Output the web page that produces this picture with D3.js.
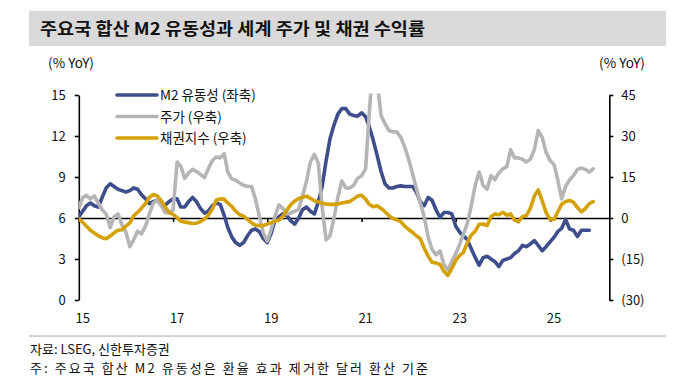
<!DOCTYPE html>
<html>
<head>
<meta charset="utf-8">
<script src="https://cdn.jsdelivr.net/npm/d3@7"></script>
<style>
  body { margin: 0; background: #fff; }
  svg text { font-family: "Noto Sans CJK KR", "Noto Sans", sans-serif; fill: #111; }
</style>
</head>
<body>
<div id="chart"></div>
<script>
// monthly observations starting Jan 2015
const startMonth = new Date(2015, 0, 1);

// M2 liquidity (left axis, % YoY)
const m2Values = [
  6.1, 6.5, 6.9, 7.1, 6.9, 6.8, 7.5, 8.2, 8.5, 8.3, 8.1, 8.0,
  7.9, 8.0, 8.2, 8.1, 7.7, 7.4, 7.05, 7.2, 7.3, 7.0, 6.95, 7.2,
  7.4, 7.4, 6.8, 6.8, 7.2, 7.5, 7.2, 6.7, 6.35, 6.5, 6.9, 7.1,
  7.0, 6.2, 5.3, 4.6, 4.2, 4.0, 4.2, 4.7, 5.1, 5.2, 5.0, 4.5,
  4.2, 4.9, 5.8, 6.1, 6.3, 6.2, 5.8, 5.55, 6.0, 6.6, 6.8, 6.5,
  6.3, 7.2, 8.3, 10.2, 11.8, 12.8, 13.6, 14.0, 14.0, 13.6, 13.5, 13.45,
  13.7, 13.4, 12.7, 11.7, 10.6, 9.4, 8.5, 8.2, 8.2, 8.3, 8.35, 8.3,
  8.3, 8.3, 7.9, 7.2, 6.9, 7.5, 7.3, 6.6, 6.05, 6.4, 6.4, 6.3,
  5.4, 4.95, 4.7, 4.4, 3.75, 3.1, 2.55, 3.1, 3.2, 3.0, 2.8, 2.45,
  2.9, 3.0, 3.1, 3.4, 3.6, 4.0, 3.9, 4.1, 4.35, 4.0, 3.6, 3.9,
  4.25, 4.6, 5.0, 5.25, 5.9, 5.2, 5.1, 4.65, 5.1, 5.1, 5.1
];

// global equities (right axis, % YoY)
const stockValues = [
  3.8, 7.5, 8.3, 7.0, 8.1, 5.5, 3.0, 1.5, -3.5, 0.5, 1.5, -2.5,
  -5.2, -10.5, -8.0, -4.8, -5.8, -3.0, 1.5, 5.5, 6.5, 4.5, 2.0, 1.8,
  3.0, 20.5, 19.0, 14.5, 16.5, 17.8, 17.0, 16.0, 14.8, 18.0, 21.0, 22.3,
  22.0, 23.5, 16.8, 14.3, 13.8, 12.8, 12.0, 11.5, 11.5, 7.0, 0.5, -5.5,
  -8.5, -4.0, 0.5, 4.8, 3.5, 1.5, 1.8, 2.5, 3.2, 8.0, 13.5, 20.5,
  23.3, 20.0, 4.0, -8.0, -6.5, 0.0, 7.5, 13.5, 11.0, 11.0, 12.0, 14.5,
  15.5, 18.0, 38.0, 58.0, 50.0, 37.5, 34.5, 32.0, 31.5, 31.5, 29.5, 26.0,
  21.5, 16.0, 11.0, 5.5, 0.5, -7.0, -11.5, -13.5, -12.0, -17.0, -19.0, -16.0,
  -13.0, -9.5, -6.0, -2.0, 4.5, 12.0, 16.8, 12.0, 10.5, 15.5, 14.0, 16.5,
  18.0, 18.8, 25.0, 22.0, 22.0, 21.5, 20.5, 21.5, 25.0, 32.0, 29.5, 24.0,
  21.0, 19.5, 14.0, 7.0, 11.5, 14.0, 15.5, 17.8, 18.3, 17.8, 16.8, 18.0
];

// bond index (right axis, % YoY)
const bondValues = [
  -0.3, -1.6, -3.0, -4.5, -5.5, -6.5, -7.2, -7.6, -6.6, -5.4, -4.5, -4.3,
  -3.0, -1.8, 0.8, 2.1, 3.6, 5.3, 7.6, 8.6, 8.1, 6.3, 4.0, 2.0,
  1.3, 0.1, -1.2, -1.5, -1.7, -2.0, -1.9, -1.3, -0.4, 1.0, 3.3, 6.5,
  7.0, 6.9, 5.5, 4.2, 2.5, 1.2, 0.7, -0.5, -1.8, -2.6, -2.8, -2.8,
  -2.2, -1.7, -1.2, -0.8, 0.5, 2.8, 4.8, 6.2, 7.1, 7.6, 8.0, 7.2,
  6.3, 5.9, 5.4, 5.1, 5.0, 5.0, 5.1, 5.5, 5.8, 6.0, 7.0, 8.0,
  8.3, 6.9, 5.0, 4.1, 4.5, 3.5, 2.3, 0.8, -0.2, -0.7, -1.3, -3.0,
  -4.2, -5.3, -6.5, -7.6, -11.0, -14.0, -16.2, -16.5, -17.0, -19.5, -21.0, -18.5,
  -15.5, -13.7, -12.6, -9.0, -6.2, -4.8, -2.3, -2.2, -2.8, 0.5, 1.5, 1.2,
  2.1, 1.0, 1.5, -0.8, -1.4, 0.5, 0.9, 3.5, 8.0, 10.3, 6.3, 2.0,
  -0.5, -0.5, 2.2, 5.0, 6.0, 6.4, 5.8, 3.8, 2.3, 3.4, 5.3, 6.0
];

const leftTicks = [0, 3, 6, 9, 12, 15];
const rightTicks = [-30, -15, 0, 15, 30, 45];
const yearTicks = [2015, 2017, 2019, 2021, 2023, 2025];

const seriesNames = ["M2 유동성 (좌축)", "주가 (우축)", "채권지수 (우축)"];
const seriesColors = ["#3e4d8c", "#b5b5b5", "#d4a106"];

const titleText = "주요국 합산 M2 유동성과 세계 주가 및 채권 수익률";
const sourceText = "자료: LSEG, 신한투자증권";
const noteText = "주: 주요국 합산 M2 유동성은 환율 효과 제거한 달러 환산 기준";

const W = 680, H = 377;
const plot = {left: 78.8, right: 609.3, top: 95, bottom: 300};

const svg = d3.select("#chart").append("svg")
    .attr("width", W)
    .attr("height", H);

// title bar
svg.append("rect")
    .attr("x", 29).attr("y", 11)
    .attr("width", 637).attr("height", 35)
    .attr("fill", "#d9d9d9");
svg.append("text")
    .attr("x", 40).attr("y", 34.5)
    .attr("font-size", 17).attr("font-weight", "bold")
    .attr("textLength", 385).attr("lengthAdjust", "spacingAndGlyphs")
    .text(titleText);

// scales
const x = d3.scaleTime()
    .domain([startMonth, new Date(2026, 3, 5)])
    .range([plot.left, plot.right]);
const yL = d3.scaleLinear().domain([0, 15]).range([plot.bottom, plot.top]);
const yR = d3.scaleLinear().domain([-30, 45]).range([plot.bottom, plot.top]);

const monthAt = i => d3.timeMonth.offset(startMonth, i);

// axis units
svg.append("text").attr("x", 71).attr("y", 68).attr("text-anchor", "middle")
    .attr("font-size", 13.5).text("(% YoY)");
svg.append("text").attr("x", 622).attr("y", 68).attr("text-anchor", "middle")
    .attr("font-size", 13.5).text("(% YoY)");

// left axis
const leftAxis = svg.append("g")
    .attr("transform", `translate(${plot.left},0)`)
    .call(d3.axisLeft(yL).tickValues(leftTicks).tickSize(4).tickSizeOuter(0).tickPadding(9));
// right axis
const rightAxis = svg.append("g")
    .attr("transform", `translate(${plot.right},0)`)
    .call(d3.axisRight(yR).tickValues(rightTicks).tickSize(4).tickSizeOuter(0).tickPadding(8)
        .tickFormat(d => d < 0 ? `(${-d})` : d));
// zero line with year ticks
const zeroAxis = svg.append("g")
    .attr("transform", `translate(0,${yR(0)})`)
    .call(d3.axisBottom(x).tickValues(yearTicks.map(y => new Date(y, 0, 1)))
        .tickSize(4).tickSizeOuter(0).tickFormat(""));

[leftAxis, rightAxis, zeroAxis].forEach(g => {
    g.selectAll("path.domain").attr("stroke", "#000").attr("stroke-width", 1.6);
    g.selectAll(".tick line").attr("stroke", "#000").attr("stroke-width", 1.6);
    g.selectAll(".tick text").attr("font-size", 13).attr("fill", "#111")
        .attr("font-family", "\"Noto Sans CJK KR\", sans-serif");
});

// year labels under the plot
svg.selectAll("text.year")
    .data(yearTicks)
    .enter().append("text")
    .attr("class", "year")
    .attr("x", d => x(new Date(d, 0, 1)) + 4)
    .attr("y", 323)
    .attr("text-anchor", "middle")
    .attr("font-size", 13)
    .text(d => String(d).slice(2));

// clip
svg.append("clipPath").attr("id", "clip")
    .append("rect")
    .attr("x", plot.left).attr("y", plot.top - 1.5)
    .attr("width", plot.right - plot.left).attr("height", plot.bottom - plot.top + 1.5);

const lineL = d3.line().x((d, i) => x(monthAt(i))).y(d => yL(d));
const lineR = d3.line().x((d, i) => x(monthAt(i))).y(d => yR(d));

const lines = svg.append("g").attr("clip-path", "url(#clip)");
[[m2Values, lineL], [stockValues, lineR], [bondValues, lineR]].forEach(([vals, gen], k) => {
    lines.append("path")
        .attr("d", gen(vals))
        .attr("fill", "none")
        .attr("stroke", seriesColors[k])
        .attr("stroke-width", 3.6)
        .attr("stroke-linejoin", "round")
        .attr("stroke-linecap", "round");
});

// legend
const legend = svg.append("g");
const legendY = [95, 116.5, 138];
seriesNames.forEach((name, k) => {
    legend.append("line")
        .attr("x1", 117).attr("x2", 157)
        .attr("y1", legendY[k]).attr("y2", legendY[k])
        .attr("stroke", seriesColors[k]).attr("stroke-width", 3.6)
        .attr("stroke-linecap", "round");
    legend.append("text")
        .attr("x", 160).attr("y", legendY[k] + 5)
        .attr("font-size", 13.5)
        .text(name);
});

// footer
svg.append("line")
    .attr("x1", 29).attr("x2", 666)
    .attr("y1", 336).attr("y2", 336)
    .attr("stroke", "#a6a6a6").attr("stroke-width", 1);
svg.append("text")
    .attr("x", 30).attr("y", 353.5)
    .attr("font-size", 13).attr("fill", "#222")
    .text(sourceText);
svg.append("text")
    .attr("x", 30).attr("y", 372.5)
    .attr("font-size", 13).attr("fill", "#222")
    .attr("textLength", 398).attr("lengthAdjust", "spacing")
    .text(noteText);
</script>
</body>
</html>
